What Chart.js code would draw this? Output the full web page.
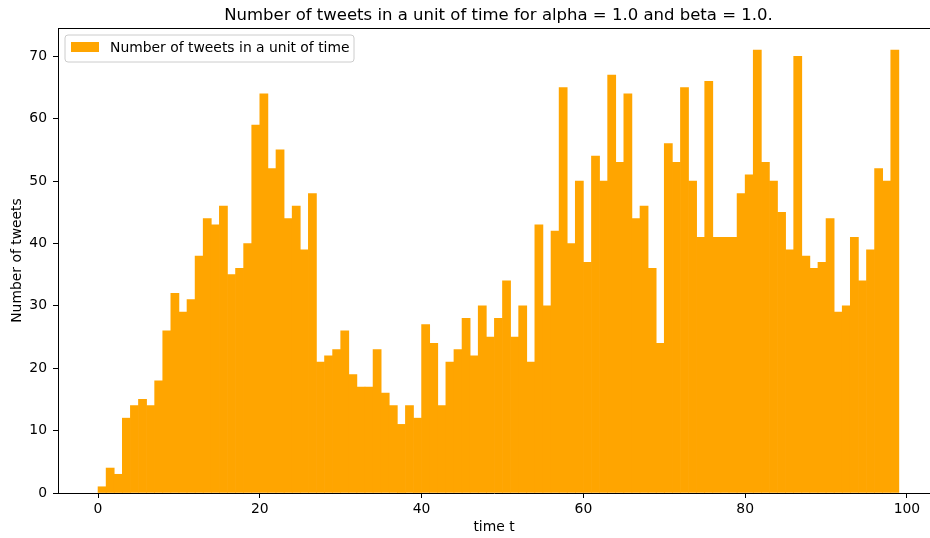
<!DOCTYPE html>
<html>
<head>
<meta charset="utf-8">
<script src="https://cdn.jsdelivr.net/npm/chart.js@4.4.0/dist/chart.umd.min.js"></script>
<style>
  html, body { margin: 0; padding: 0; background: #ffffff; }
  #wrap { width: 930px; height: 538px; position: relative; }
</style>
</head>
<body>
<div id="wrap"><canvas id="chart" width="930" height="538"></canvas></div>
<script>
// Start of each unit-of-time bin (t = 0 .. 98)
const timeBins = [
   0,  1,  2,  3,  4,  5,  6,  7,  8,  9,
  10, 11, 12, 13, 14, 15, 16, 17, 18, 19,
  20, 21, 22, 23, 24, 25, 26, 27, 28, 29,
  30, 31, 32, 33, 34, 35, 36, 37, 38, 39,
  40, 41, 42, 43, 44, 45, 46, 47, 48, 49,
  50, 51, 52, 53, 54, 55, 56, 57, 58, 59,
  60, 61, 62, 63, 64, 65, 66, 67, 68, 69,
  70, 71, 72, 73, 74, 75, 76, 77, 78, 79,
  80, 81, 82, 83, 84, 85, 86, 87, 88, 89,
  90, 91, 92, 93, 94, 95, 96, 97, 98
];

// Number of tweets observed in each bin
const tweetCounts = [
   1,  4,  3, 12, 14, 15, 14, 18, 26, 32,
  29, 31, 38, 44, 43, 46, 35, 36, 40, 59,
  64, 52, 55, 44, 46, 39, 48, 21, 22, 23,
  26, 19, 17, 17, 23, 16, 14, 11, 14, 12,
  27, 24, 14, 21, 23, 28, 22, 30, 25, 28,
  34, 25, 30, 21, 43, 30, 42, 65, 40, 50,
  37, 54, 50, 67, 53, 64, 44, 46, 36, 24,
  56, 53, 65, 50, 41, 66, 41, 41, 41, 48,
  51, 71, 53, 50, 45, 39, 70, 38, 36, 37,
  44, 29, 30, 41, 34, 39, 52, 50, 71
];

const xTickValues = [0, 20, 40, 60, 80, 100];
const yTickValues = [0, 10, 20, 30, 40, 50, 60, 70];

const chartTitle = 'Number of tweets in a unit of time for alpha = 1.0 and beta = 1.0.';
const seriesLabel = 'Number of tweets in a unit of time';
const xAxisLabel = 'time t';
const yAxisLabel = 'Number of tweets';

const BAR_COLOR = '#FFA500';
const FONT = 'DejaVu Sans';

// Axis limits: 5% margin around the histogram span 0..99
const X_MIN = -4.95;
const X_AXES_END = 103.95;   // far edge of the axes box (beyond the canvas)
const X_MAX = 102.85;        // value at the canvas' right edge
const Y_MIN = 0;
const Y_MAX = 74.55;

const points = tweetCounts.map((v, i) => ({ x: timeBins[i] + 0.5, y: v }));

// Frame top line, title and boxed legend drawn on top of the plot
const decorations = {
  id: 'decorations',
  afterDraw(chart) {
    const ctx = chart.ctx;
    const area = chart.chartArea;
    const xs = chart.scales.x;
    ctx.save();

    // top spine
    ctx.strokeStyle = '#000';
    ctx.lineWidth = 1;
    ctx.beginPath();
    ctx.moveTo(area.left, Math.round(area.top) + 0.5);
    ctx.lineTo(area.right, Math.round(area.top) + 0.5);
    ctx.stroke();

    // title, centred over the whole axes box
    const cx = (area.left + xs.getPixelForValue(X_AXES_END)) / 2;
    ctx.fillStyle = '#000';
    ctx.font = '16.5px "' + FONT + '"';
    ctx.textAlign = 'center';
    ctx.textBaseline = 'alphabetic';
    ctx.fillText(chartTitle, cx, 20);

    // legend
    const lx = area.left + 7, ly = area.top + 7, lw = 289, lh = 27, r = 3;
    ctx.beginPath();
    ctx.moveTo(lx + r, ly);
    ctx.lineTo(lx + lw - r, ly);
    ctx.arcTo(lx + lw, ly, lx + lw, ly + r, r);
    ctx.lineTo(lx + lw, ly + lh - r);
    ctx.arcTo(lx + lw, ly + lh, lx + lw - r, ly + lh, r);
    ctx.lineTo(lx + r, ly + lh);
    ctx.arcTo(lx, ly + lh, lx, ly + lh - r, r);
    ctx.lineTo(lx, ly + r);
    ctx.arcTo(lx, ly, lx + r, ly, r);
    ctx.closePath();
    ctx.fillStyle = 'rgba(255,255,255,0.8)';
    ctx.fill();
    ctx.strokeStyle = '#cccccc';
    ctx.lineWidth = 1;
    ctx.stroke();

    ctx.fillStyle = BAR_COLOR;
    ctx.fillRect(lx + 6, ly + 7, 28, 10);

    ctx.fillStyle = '#000';
    ctx.font = '13.9px "' + FONT + '"';
    ctx.textAlign = 'left';
    ctx.textBaseline = 'middle';
    ctx.fillText(chart.data.datasets[0].label, lx + 45, ly + 13);

    ctx.restore();
  }
};

new Chart(document.getElementById('chart'), {
  type: 'bar',
  data: {
    datasets: [{
      label: seriesLabel,
      data: points,
      backgroundColor: BAR_COLOR,
      borderWidth: 0,
      barPercentage: 1.0,
      categoryPercentage: 1.0
    }]
  },
  options: {
    responsive: false,
    animation: false,
    devicePixelRatio: 1,
    layout: { padding: { top: 28, right: 0, bottom: 0, left: 0 } },
    plugins: {
      legend: { display: false },
      title: { display: false },
      tooltip: { enabled: false }
    },
    scales: {
      x: {
        type: 'linear',
        offset: false,
        min: X_MIN,
        max: X_MAX,
        afterBuildTicks: (scale) => { scale.ticks = xTickValues.map(v => ({ value: v })); },
        afterFit: (scale) => { scale.height = 45; },
        grid: { display: true, offset: false, drawOnChartArea: false, drawTicks: true, tickLength: 5, tickWidth: 1, tickColor: '#000' },
        border: { display: true, color: '#000', width: 1 },
        ticks: {
          color: '#000',
          padding: 3,
          maxRotation: 0,
          font: { family: FONT, size: 13.9 },
          callback: (v) => String(v)
        },
        title: {
          display: true,
          text: xAxisLabel,
          color: '#000',
          font: { family: FONT, size: 13.9 },
          padding: { top: 0, bottom: 2 }
        }
      },
      y: {
        type: 'linear',
        min: Y_MIN,
        max: Y_MAX,
        afterBuildTicks: (scale) => { scale.ticks = yTickValues.map(v => ({ value: v })); },
        afterFit: (scale) => { scale.width = 58; },
        grid: { display: true, drawOnChartArea: false, drawTicks: true, tickLength: 5, tickWidth: 1, tickColor: '#000' },
        border: { display: true, color: '#000', width: 1 },
        ticks: {
          color: '#000',
          padding: 6,
          font: { family: FONT, size: 13.9 },
          callback: (v) => String(v)
        },
        title: {
          display: true,
          text: yAxisLabel,
          color: '#000',
          font: { family: FONT, size: 13.9 },
          padding: { top: 9, bottom: 0 }
        }
      }
    }
  },
  plugins: [decorations]
});
</script>
</body>
</html>
